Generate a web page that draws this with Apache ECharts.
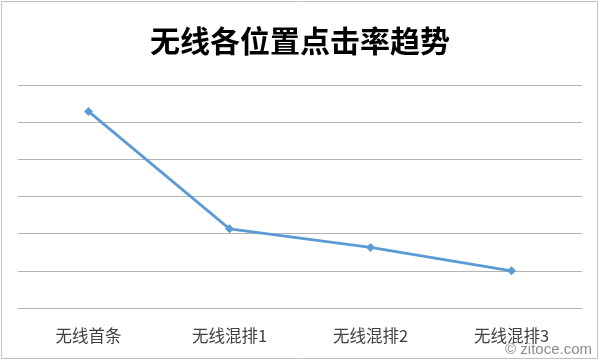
<!DOCTYPE html>
<html>
<head>
<meta charset="utf-8">
<script src="https://cdn.jsdelivr.net/npm/echarts@6/dist/echarts.min.js"></script>
<style>html,body{margin:0;padding:0;background:#fff;}#c{width:600px;height:360px;}</style>
</head>
<body>
<div id="c"></div>
<script>
var categories = ['无线首条', '无线混排1', '无线混排2', '无线混排3'];
var clickRate = [5.29, 2.13, 1.63, 1.0];
var chartTitle = '无线各位置点击率趋势';
var watermark = '© zitoce.com';

var chart = echarts.init(document.getElementById('c'), null, {renderer: 'canvas'});
chart.setOption({
  animation: false,
  backgroundColor: '#ffffff',
  title: {
    text: chartTitle,
    left: 'center',
    top: 21,
    textStyle: {fontFamily: 'Noto Sans CJK SC', fontWeight: 'bold', fontSize: 30, color: '#000000'}
  },
  grid: {left: 18, right: 18, top: 85, bottom: 52, containLabel: false},
  xAxis: {
    type: 'category',
    data: categories,
    boundaryGap: true,
    axisLine: {show: true, lineStyle: {color: '#b3b3b3', width: 1}},
    axisTick: {show: false},
    axisLabel: {fontFamily: 'Noto Sans CJK SC', fontSize: 16.5, color: '#404040', margin: 19}
  },
  yAxis: {
    type: 'value',
    min: 0,
    max: 6,
    interval: 1,
    axisLine: {show: false},
    axisTick: {show: false},
    axisLabel: {show: false},
    splitLine: {show: true, lineStyle: {color: '#b3b3b3', width: 1}}
  },
  series: [{
    type: 'line',
    data: clickRate,
    symbol: 'diamond',
    symbolSize: 9,
    lineStyle: {color: '#5B9BD5', width: 2.75},
    itemStyle: {color: '#5B9BD5'}
  }],
  graphic: [
    {type: 'rect', shape: {x: 1.5, y: 1.5, width: 596, height: 357}, style: {fill: 'none', stroke: '#bfbfbf', lineWidth: 1}, silent: true},
    {type: 'text', right: 8, bottom: 3, style: {text: watermark, fontFamily: 'Liberation Sans', fontSize: 15, fill: '#8c8c8c'}, silent: true}
  ]
});
</script>
</body>
</html>
